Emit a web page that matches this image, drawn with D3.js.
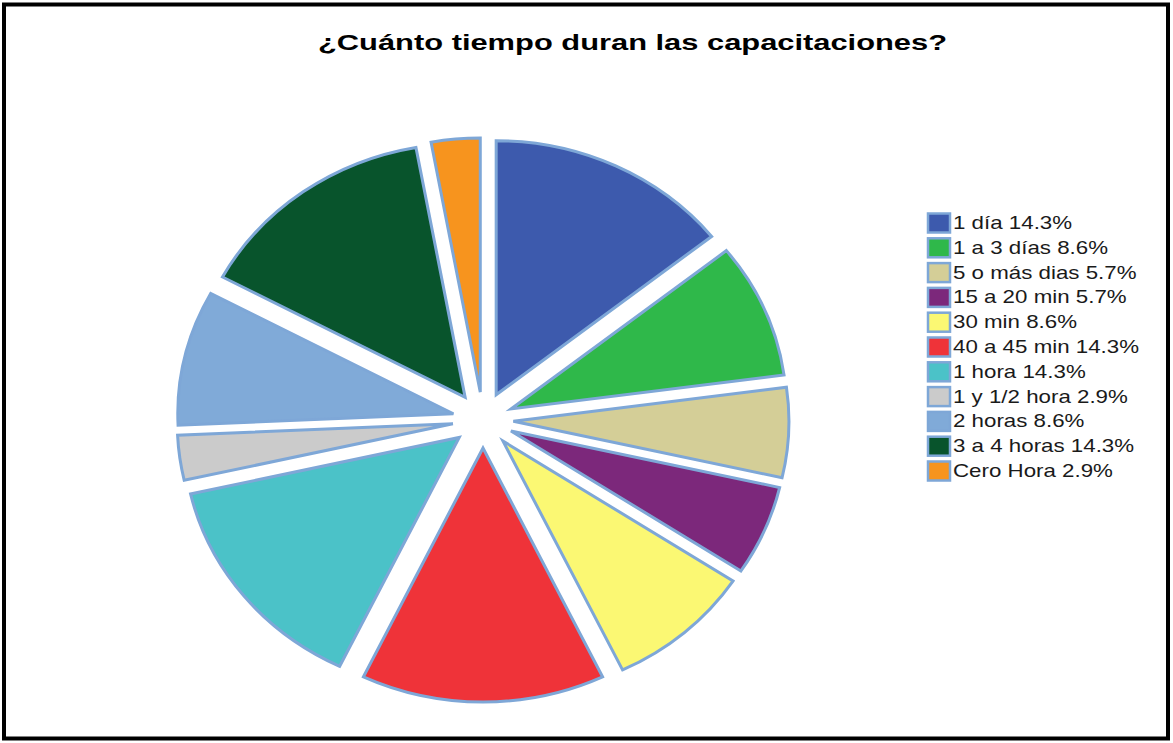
<!DOCTYPE html>
<html>
<head>
<meta charset="utf-8">
<script src="https://cdn.jsdelivr.net/npm/d3@7/dist/d3.min.js"></script>
<style>
  html, body { margin: 0; padding: 0; background: #fff; }
  svg { display: block; }
</style>
</head>
<body>
<svg id="chart" width="1173" height="743"></svg>
<script>
// Training duration survey: answer categories, response counts, legend labels
const categories = ["1 día", "1 a 3 días", "5 o más dias", "15 a 20 min", "30 min",
  "40 a 45 min", "1 hora", "1 y 1/2 hora", "2 horas", "3 a 4 horas", "Cero Hora"];
const counts = [5, 3, 2, 2, 3, 5, 5, 1, 3, 5, 1];
const percentLabels = ["14.3%", "8.6%", "5.7%", "5.7%", "8.6%", "14.3%", "14.3%", "2.9%", "8.6%", "14.3%", "2.9%"];
const colors = ["#3d5aad", "#2fb84a", "#d4ce97", "#7c287b", "#fbf873", "#ef3339",
  "#4bc2c8", "#cbcbcb", "#80aad8", "#08542c", "#f7941e"];

const svg = d3.select("#chart");
const W = 1173, H = 743;
const FONT = "Liberation Sans, Arial, sans-serif";
const stretchX = 1.085; // the whole chart is drawn slightly wider than tall

// frame
svg.append("rect").attr("x", 4).attr("y", 4.5).attr("width", W - 9).attr("height", H - 9)
  .attr("fill", "#fff").attr("stroke", "#000").attr("stroke-width", 4);

// title
svg.append("text")
  .attr("x", 318).attr("y", 50)
  .attr("font-family", FONT)
  .attr("font-weight", "bold")
  .attr("font-size", 22.5)
  .attr("textLength", 629)
  .attr("lengthAdjust", "spacingAndGlyphs")
  .text("¿Cuánto tiempo duran las capacitaciones?");

// pie with every slice pulled out from the centre
const cx = 483, cy = 420, radius = 254, explode = 28;
const data = categories.map((c, i) => ({ name: c, value: counts[i], color: colors[i], pct: percentLabels[i] }));
const pie = d3.pie().value(d => d.value).sort(null);
const arc = d3.arc().innerRadius(0).outerRadius(radius);

const g = svg.append("g").attr("transform", `translate(${cx},${cy}) scale(${stretchX},1)`);
g.selectAll("path")
  .data(pie(data))
  .join("path")
  .attr("transform", d => {
    const a = (d.startAngle + d.endAngle) / 2;
    return `translate(${explode * Math.sin(a)},${-explode * Math.cos(a)})`;
  })
  .attr("d", arc)
  .attr("fill", d => d.data.color)
  .attr("stroke", "#7ea7d7")
  .attr("stroke-width", 3)
  .attr("vector-effect", "non-scaling-stroke")
  .attr("stroke-linejoin", "miter");

// legend
const legend = svg.append("g").attr("transform", "translate(927,212)");
const rowH = 24.8;
const rows = legend.selectAll("g")
  .data(data)
  .join("g")
  .attr("transform", (d, i) => `translate(0,${i * rowH})`);
rows.append("rect")
  .attr("x", 1).attr("y", 1.5).attr("width", 22).attr("height", 19)
  .attr("fill", d => d.color)
  .attr("stroke", "#7ea7d7").attr("stroke-width", 2.5);
rows.append("text")
  .attr("transform", "translate(26,17) scale(1.24,1)")
  .attr("font-family", FONT)
  .attr("font-size", 18)
  .attr("fill", "#1a1a1a")
  .text(d => `${d.name} ${d.pct}`);
</script>
</body>
</html>
